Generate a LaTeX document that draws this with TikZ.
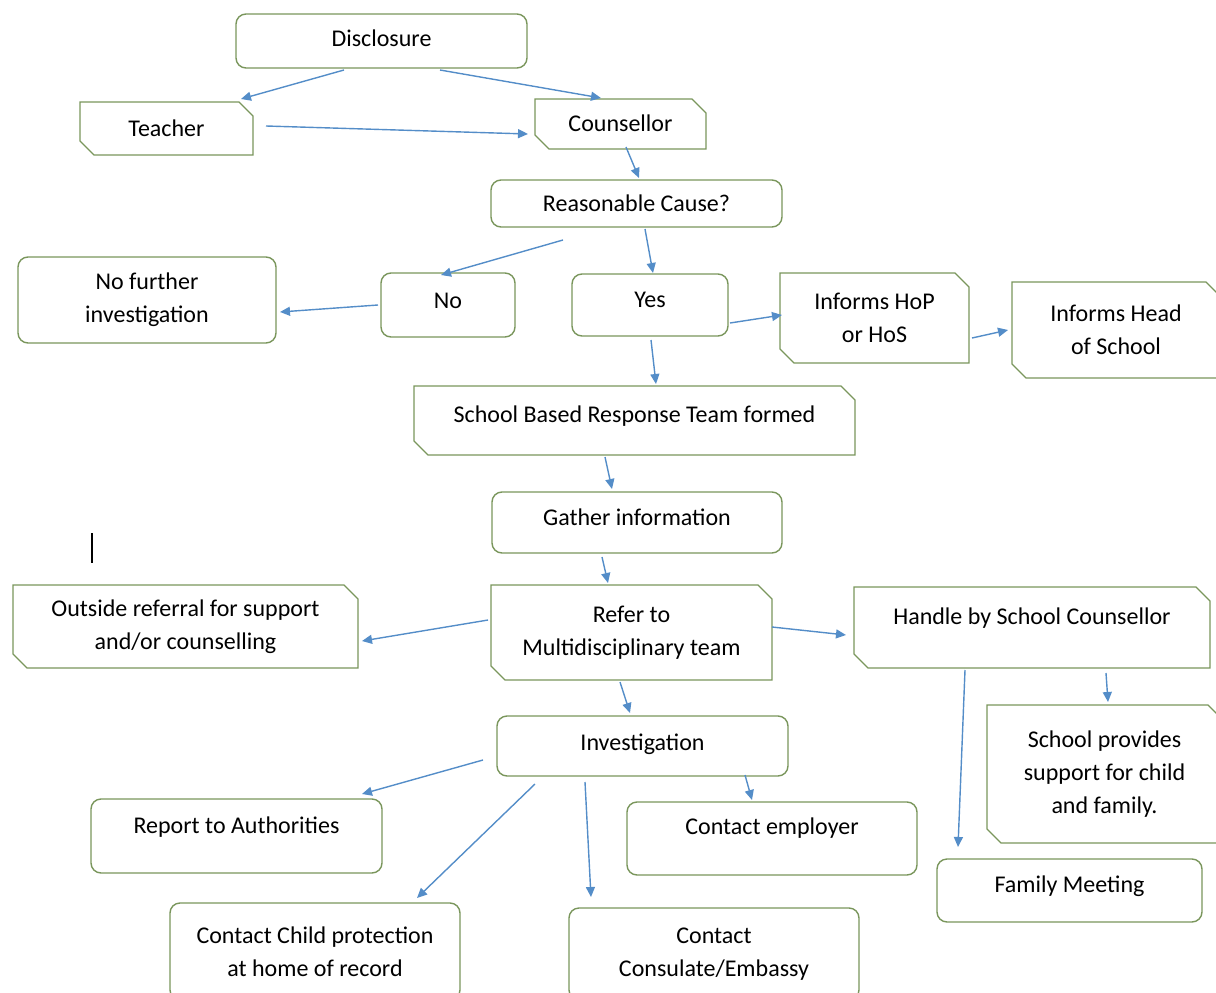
\documentclass[tikz,border=0pt]{standalone}
\usepackage{fontspec}
\setmainfont{Carlito}
\usetikzlibrary{arrows.meta, shapes.misc}

\definecolor{boxline}{RGB}{122,150,92}
\definecolor{flowblue}{RGB}{84,141,200}

\begin{document}
\begin{tikzpicture}[
    x=1pt, y=-1pt,
    every node/.style={font=\fontsize{24}{33}\selectfont, align=center, inner sep=0pt},
    rbox/.style={draw=boxline, line width=1.4pt, rounded corners=10pt, fill=white},
    sbox/.style={draw=boxline, line width=1.4pt, fill=white, chamfered rectangle,
      chamfered rectangle corners={north east, south west},
      chamfered rectangle xsep=7pt, chamfered rectangle ysep=7pt},
    sz/.style 2 args={minimum width=#1pt, minimum height=#2pt},
    lift/.style={text height=17pt, text depth=#1},
    flow/.style={draw=flowblue, line width=1.4pt, -{Triangle[length=10pt, width=9pt]}}
  ]
  \useasboundingbox (0,0) rectangle (1216,993);
  \clip (0,0) rectangle (1216,993);

  % --- top: disclosure and first decision ---
  \node[rbox, sz={291}{54}, lift=6pt] (disc) at (381.5,41) {Disclosure};
  \node[sbox, sz={173}{53}, lift=2pt] (teach) at (166.5,128.5) {Teacher};
  \node[sbox, sz={171}{50}, lift=2pt] (couns) at (620.5,124) {Counsellor};
  \node[rbox, sz={291}{47}, lift=1pt] (reas) at (636.5,203.5) {Reasonable Cause?};
  \node[rbox, sz={258}{86}] (nofur) at (147,300) {No further\\investigation};
  \node[rbox, sz={134}{64}, lift=10pt] (no) at (448,305) {No};
  \node[rbox, sz={156}{62}, lift=12pt] (yes) at (650,305) {Yes};
  \node[sbox, sz={189}{90}] (hop) at (874.5,318) {Informs HoP\\or HoS};
  \node[sbox, sz={208}{96}] (head) at (1116,330) {Informs Head\\of School};

  % --- middle: response team ---
  \node[sbox, sz={441}{69}, lift=13pt] (sbrt) at (634.5,420.5) {School Based Response Team formed};
  \node[rbox, sz={290}{61}, lift=11pt] (gather) at (637,522.5) {Gather information};
  \node[sbox, sz={345}{83}] (outside) at (185.5,626.5) {Outside referral for support\\and/or counselling};
  \node[sbox, sz={281}{95}] (refer) at (631.5,632.5) {Refer to\\Multidisciplinary team};
  \node[sbox, sz={356}{81}, lift=23pt] (handle) at (1032,627.5) {Handle by School Counsellor};

  % --- bottom: investigation and support ---
  \node[rbox, sz={291}{60}, lift=8pt] (invest) at (642.5,746) {Investigation};
  \node[sbox, sz={235}{138}] (provides) at (1104.5,774) {School provides\\support for child\\and family.};
  \node[rbox, sz={291}{74}, lift=22pt] (report) at (236.5,836) {Report to Authorities};
  \node[rbox, sz={290}{73}, lift=25pt] (employer) at (772,838.5) {Contact employer};
  \node[rbox, sz={265}{63}, lift=13pt] (family) at (1069.5,890.5) {Family Meeting};
  \node[rbox, sz={290}{97}] (child) at (315,951.5) {Contact Child protection\\at home of record};
  \node[rbox, sz={290}{92}] (consul) at (714,954) {Contact\\Consulate/Embassy};

  % stray text cursor
  \draw[line width=1.8pt] (92,533) -- (92,563);

  % --- arrows ---
  \draw[flow] ([shift={(-37.5,29)}]disc.center) -- ([shift={(74.5,-29.5)}]teach.center);
  \draw[flow] ([shift={(58.5,29)}]disc.center) -- ([shift={(-19.5,-26)}]couns.center);
  \draw[flow] ([shift={(99.5,-2.5)}]teach.center) -- ([shift={(-92.5,10)}]couns.center);
  \draw[flow] ([shift={(5.5,23)}]couns.center) -- ([shift={(2.5,-25.5)}]reas.center);
  \draw[flow] ([shift={(-73.5,36.5)}]reas.center) -- ([shift={(-7,-30)}]no.center);
  \draw[flow] ([shift={(8.5,25.5)}]reas.center) -- ([shift={(3,-32)}]yes.center);
  \draw[flow] ([shift={(-70,0)}]no.center) -- ([shift={(133,12)}]nofur.center);
  \draw[flow] ([shift={(80,18)}]yes.center) -- ([shift={(-92.5,-3)}]hop.center);
  \draw[flow] ([shift={(1,35)}]yes.center) -- ([shift={(21.5,-36.5)}]sbrt.center);
  \draw[flow] ([shift={(97.5,20)}]hop.center) -- ([shift={(-108,0)}]head.center);
  \draw[flow] ([shift={(-29.5,36.5)}]sbrt.center) -- ([shift={(-25,-33.5)}]gather.center);
  \draw[flow] ([shift={(-35,34.5)}]gather.center) -- ([shift={(-23.5,-49.5)}]refer.center);
  \draw[flow] ([shift={(-143.5,-12.5)}]refer.center) -- ([shift={(176.5,14.5)}]outside.center);
  \draw[flow] ([shift={(140.5,-5.5)}]refer.center) -- ([shift={(-186,7.5)}]handle.center);
  \draw[flow] ([shift={(-11.5,49.5)}]refer.center) -- ([shift={(-12.5,-33)}]invest.center);
  \draw[flow] ([shift={(74,45.5)}]handle.center) -- ([shift={(3.5,-72)}]provides.center);
  \draw[flow] ([shift={(-67,42.5)}]handle.center) -- ([shift={(-111.5,-43.5)}]family.center);
  \draw[flow] ([shift={(-159.5,14)}]invest.center) -- ([shift={(125.5,-42)}]report.center);
  \draw[flow] ([shift={(-107.5,38)}]invest.center) -- ([shift={(102,-53.5)}]child.center);
  \draw[flow] ([shift={(-57.5,36)}]invest.center) -- ([shift={(-123,-57)}]consul.center);
  \draw[flow] ([shift={(102.5,29)}]invest.center) -- ([shift={(-20,-38.5)}]employer.center);
\end{tikzpicture}
\end{document}
